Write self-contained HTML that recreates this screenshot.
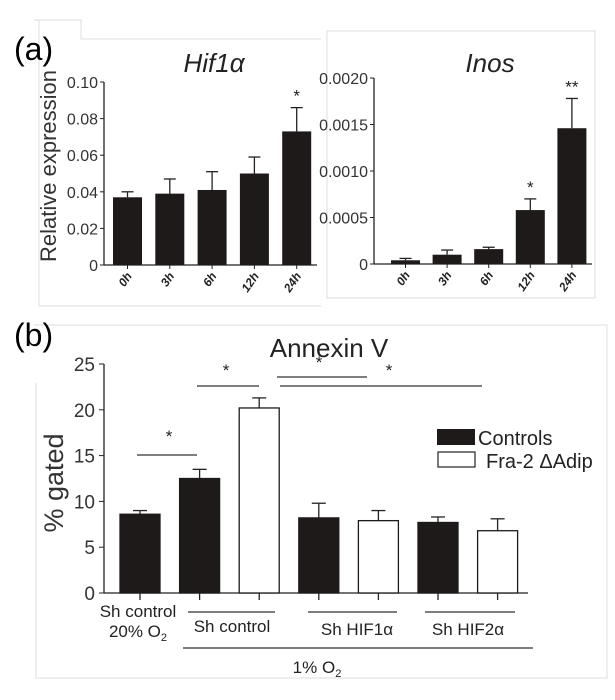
<!DOCTYPE html>
<html><head><meta charset="utf-8"><style>
html,body{margin:0;padding:0;background:#fff;width:615px;height:700px;overflow:hidden}
svg{display:block;font-family:"Liberation Sans",sans-serif}
</style></head><body>
<svg id="fig" width="615" height="700" viewBox="0 0 615 700">
<g stroke="#ddd" fill="none" stroke-width="1">
<polyline points="34,20 81,20 81,39 321,39"/><line x1="39" y1="20" x2="39" y2="306"/><line x1="39" y1="306" x2="321" y2="306"/>
<rect x="327" y="31" width="268" height="267"/>
<polyline points="34,325 607,325 607,678 36,678 36,383"/>
</g>
<text x="14" y="60" font-size="32">(a)</text>
<text x="14" y="346" font-size="32">(b)</text>
<g id="chartA1"></g>
<g id="chartA2"></g>
<g id="chartB"></g>
</svg>
<script>
const NS="http://www.w3.org/2000/svg";
const hifCats=["0h","3h","6h","12h","24h"];
const hifVals=[0.037,0.039,0.041,0.050,0.073];
const hifErr=[0.040,0.047,0.051,0.059,0.086];
const hifTicks=[0,0.02,0.04,0.06,0.08,0.10];
const hifTickLabels=["0","0.02","0.04","0.06","0.08","0.10"];
const hifStars=["","","","","*"];
const inosCats=["0h","3h","6h","12h","24h"];
const inosVals=[0.00004,0.0001,0.00016,0.00058,0.00146];
const inosErr=[0.00006,0.00015,0.00018,0.0007,0.00178];
const inosTicks=[0,0.0005,0.001,0.0015,0.002];
const inosTickLabels=["0","0.0005","0.0010","0.0015","0.0020"];
const inosStars=["","","","*","**"];
const annCats=["Sh control 20%","Sh control C","Sh control F","Sh HIF1a C","Sh HIF1a F","Sh HIF2a C","Sh HIF2a F"];
const annVals=[8.6,12.5,20.2,8.2,7.9,7.7,6.8];
const annErr=[9.0,13.5,21.3,9.8,9.0,8.3,8.1];
const annGroup=["Controls","Controls","Fra-2","Controls","Fra-2","Controls","Fra-2"];
const annTicks=[0,5,10,15,20,25];
const annTickLabels=["0","5","10","15","20","25"];

function el(tag,attrs,parent,text){const e=document.createElementNS(NS,tag);for(const k in attrs)e.setAttribute(k,attrs[k]);if(text!==undefined)e.textContent=text;parent.appendChild(e);return e;}

function small(gid,cfg){
  const g=document.getElementById(gid);
  const y=v=>cfg.y0-(v-cfg.min)/(cfg.max-cfg.min)*(cfg.y0-cfg.yTop);
  const bx=i=>cfg.x0+cfg.first+i*cfg.step;
  const ax=el('line',{x1:cfg.x0,y1:cfg.yTop,x2:cfg.x0,y2:cfg.y0,stroke:'#222','stroke-width':1.3},g);
  
  const xa=el('line',{x1:cfg.x0,y1:cfg.y0,x2:cfg.xEnd,y2:cfg.y0,stroke:'#222','stroke-width':1.3},g);
  
  cfg.ticks.forEach((t,i)=>{
    el('line',{x1:cfg.x0-4,y1:y(t),x2:cfg.x0,y2:y(t),stroke:'#222'},g);
    const tl=el('text',{x:cfg.x0-6,y:y(t)+6,'font-size':16,'text-anchor':'end',fill:'#333'},g,cfg.labels[i]);
    
  });
  cfg.vals.forEach((v,i)=>{
    const x=bx(i),w=cfg.bw,cx=x+w/2;
    el('line',{x1:cx,y1:y(v),x2:cx,y2:y(cfg.err[i]),stroke:'#222','stroke-width':1.3},g);
    el('line',{x1:cx-6,y1:y(cfg.err[i]),x2:cx+6,y2:y(cfg.err[i]),stroke:'#222','stroke-width':1.3},g);
    const b=el('rect',{x:x,y:y(v),width:w,height:cfg.y0-y(v),fill:'#1e1a1a'},g);
    
    el('line',{x1:cx,y1:cfg.y0,x2:cx,y2:cfg.y0+4,stroke:'#222'},g);
    const lab=el('text',{transform:`translate(${cx+5},${cfg.y0+11}) rotate(-55)`,'font-size':12,'font-weight':'bold','font-style':'italic','text-anchor':'end',fill:'#222'},g,cfg.cats[i]);
    
    if(cfg.stars[i]){const s=el('text',{x:cx,y:y(cfg.err[i])-6,'font-size':17,'text-anchor':'middle',fill:'#222'},g,cfg.stars[i]);
      }
  });
  const t=el('text',{x:cfg.titleX,y:72,'font-size':26,'font-style':'italic','text-anchor':'middle',fill:'#222'},g,cfg.title);
  
}
small('chartA1',{x0:104,xEnd:317,y0:265,yTop:82,min:0,max:0.10,first:9,step:42.3,bw:29,vals:hifVals,err:hifErr,cats:hifCats,ticks:hifTicks,labels:hifTickLabels,stars:hifStars,title:"Hif1α",titleX:214});
small('chartA2',{x0:374,xEnd:592,y0:264,yTop:78,min:0,max:0.002,first:17,step:41.6,bw:29,vals:inosVals,err:inosErr,cats:inosCats,ticks:inosTicks,labels:inosTickLabels,stars:inosStars,title:"Inos",titleX:490});
const ylab=el('text',{transform:'translate(56,166) rotate(-90)','font-size':22,'text-anchor':'middle',fill:'#333'},document.getElementById('chartA1'),'Relative expression');


(function(){
  const g=document.getElementById('chartB');
  const x0=104,xEnd=528,y0=593,yTop=364,max=25;
  const y=v=>y0-v/max*(y0-yTop);
  const bx=i=>120+i*59.6,bw=40;
  const a=el('line',{x1:x0,y1:yTop,x2:x0,y2:y0,stroke:'#222','stroke-width':1.3},g);
  
  const xa=el('line',{x1:x0,y1:y0,x2:xEnd,y2:y0,stroke:'#222','stroke-width':1.3},g);
  
  annTicks.forEach((t,i)=>{
    el('line',{x1:x0-5,y1:y(t),x2:x0,y2:y(t),stroke:'#222'},g);
    const tl=el('text',{x:x0-9,y:y(t)+7,'font-size':19,'text-anchor':'end',fill:'#333'},g,annTickLabels[i]);
    
  });
  annVals.forEach((v,i)=>{
    const x=bx(i),cx=x+bw/2,e=annErr[i];
    el('line',{x1:cx,y1:y(v),x2:cx,y2:y(e),stroke:'#222','stroke-width':1.3},g);
    el('line',{x1:cx-7,y1:y(e),x2:cx+7,y2:y(e),stroke:'#222','stroke-width':1.3},g);
    const white=annGroup[i]!=="Controls";
    const b=el('rect',{x:x,y:y(v),width:bw,height:y0-y(v),fill:white?'#fff':'#1e1a1a',stroke:'#1e1a1a','stroke-width':1.3},g);
    
    el('line',{x1:cx,y1:y0,x2:cx,y2:y0+7,stroke:'#222','stroke-width':1.3},g);
  });
  const t=el('text',{x:329,y:357,'font-size':26,'text-anchor':'middle',fill:'#222'},g,'Annexin V');
  
  const yl=el('text',{transform:'translate(63,483) rotate(-90)','font-size':27,'text-anchor':'middle',fill:'#333'},g,'% gated');
  
  [[137,197,455,169,442],[197,259,386,226,376],[277,367,377,319,368],[280,482,386,389,376]].forEach(s=>{
    el('line',{x1:s[0],y1:s[2],x2:s[1],y2:s[2],stroke:'#333','stroke-width':1.2},g);
    const st=el('text',{x:s[3],y:s[4],'font-size':17,'text-anchor':'middle',fill:'#222'},g,'*');
    
  });
  const lg=el('g',{},g);
  el('rect',{x:437,y:429,width:38,height:16,fill:'#1e1a1a'},lg);
  el('text',{x:478,y:445,'font-size':20,fill:'#222'},lg,'Controls');
  el('rect',{x:438,y:452,width:37,height:15,fill:'#fff',stroke:'#222','stroke-width':1.2},lg);
  el('text',{x:486,y:468,'font-size':20,fill:'#222'},lg,'Fra-2 ΔAdip');
  const lab=(x,yy,txt,nm)=>{const e=el('text',{x:x,y:yy,'font-size':17,'text-anchor':'middle',fill:'#222'},g,txt);return e;};
  lab(138,617,'Sh control','x-label-sh-control-normoxia');
  const o=lab(138,637,'20% O','x-label-20-o2');el('tspan',{'font-size':11,dy:4},o,'2');
  [[188,275],[308,397],[425,515],[183,533]].forEach((l,i)=>el('line',{x1:l[0],y1:i==3?648:612,x2:l[1],y2:i==3?648:612,stroke:'#333','stroke-width':1.2},g));
  lab(232,632,'Sh control','x-label-sh-control');
  lab(357,635,'Sh HIF1α','x-label-sh-hif1a');
  lab(468,635,'Sh HIF2α','x-label-sh-hif2a');
  const h=lab(317,673,'1% O','x-label-1-o2');el('tspan',{'font-size':11,dy:4},h,'2');
})();
</script>
</body></html>
